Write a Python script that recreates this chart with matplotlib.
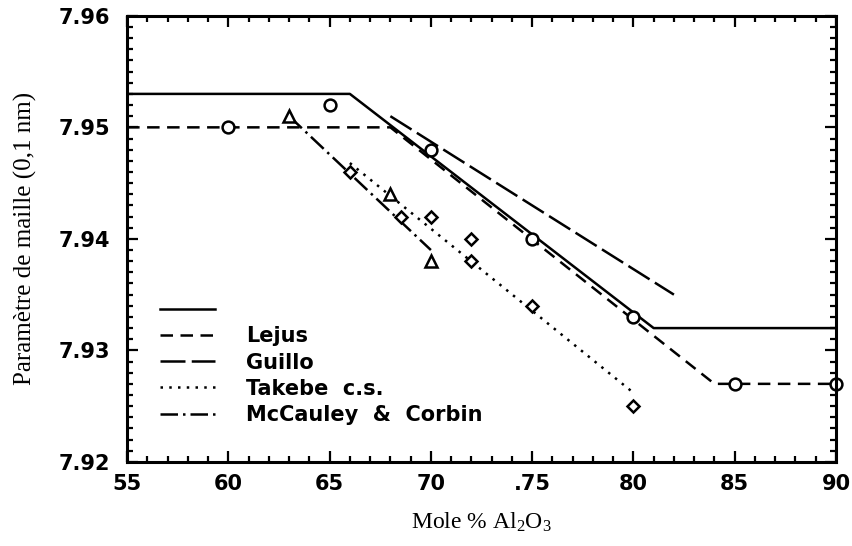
import matplotlib
matplotlib.use('Agg')
import matplotlib.pyplot as plt
from matplotlib.ticker import MultipleLocator

# solid line (no label)
solid_x = [55, 66, 81, 90]
solid_y = [7.9530, 7.9530, 7.9320, 7.9320]

# Lejus (dashed)
lejus_x = [55, 68, 84, 90]
lejus_y = [7.9500, 7.9500, 7.9270, 7.9270]

# Guillo (long dashes)
guillo_x = [68, 82]
guillo_y = [7.9510, 7.9350]

# Takebe c.s. (dotted)
takebe_x = [66, 80]
takebe_y = [7.9468, 7.9262]

# McCauley & Corbin (dash-dot)
mccauley_x = [63, 70]
mccauley_y = [7.9510, 7.9390]

# measured points
circle_x = [60, 65, 70, 75, 80, 85, 90]
circle_y = [7.950, 7.952, 7.948, 7.940, 7.933, 7.927, 7.927]
diamond_x = [66, 68.5, 70, 72, 72, 75, 80]
diamond_y = [7.946, 7.942, 7.942, 7.940, 7.938, 7.934, 7.925]
triangle_x = [63, 68, 70]
triangle_y = [7.951, 7.944, 7.938]

x_ticks = [55, 60, 65, 70, 75, 80, 85, 90]
x_tick_labels = ['55', '60', '65', '70', '.75', '80', '85', '90']
y_ticks = [7.92, 7.93, 7.94, 7.95, 7.96]

plt.rcParams['mathtext.fontset'] = 'custom'
plt.rcParams['mathtext.rm'] = 'Liberation Serif'

fig = plt.figure(figsize=(8.53, 5.46), dpi=100)
ax = fig.add_axes([0.149, 0.154, 0.831, 0.817])

lw = 1.8
ax.plot(solid_x, solid_y, color='black', lw=lw, ls='-', label=' ')
ax.plot(lejus_x, lejus_y, color='black', lw=lw, ls=(0, (5, 3)), label='Lejus')
ax.plot(guillo_x, guillo_y, color='black', lw=lw, ls=(0, (10, 2.5)), label='Guillo')
ax.plot(takebe_x, takebe_y, color='black', lw=lw, ls=(0, (1, 2.5)), label='Takebe  c.s.')
ax.plot(mccauley_x, mccauley_y, color='black', lw=lw, ls=(0, (7, 2, 1, 2)), label='McCauley  &  Corbin')

ax.plot(circle_x, circle_y, ls='none', marker='o', ms=8.5, mfc='white', mec='black', mew=1.8, clip_on=False)
ax.plot(diamond_x, diamond_y, ls='none', marker='D', ms=6, mfc='white', mec='black', mew=1.8)
ax.plot(triangle_x, triangle_y, ls='none', marker='^', ms=8.5, mfc='white', mec='black', mew=1.8)

ax.set_xlim(55, 90)
ax.set_ylim(7.92, 7.96)
ax.set_xticks(x_ticks)
ax.set_xticklabels(x_tick_labels)
ax.set_yticks(y_ticks)
ax.set_yticklabels([f'{v:.2f}' for v in y_ticks])
ax.xaxis.set_minor_locator(MultipleLocator(1))
ax.yaxis.set_minor_locator(MultipleLocator(0.001))
ax.tick_params(which='both', direction='in', top=True, right=True, width=1.6)
ax.tick_params(which='major', length=8, labelsize=15)
ax.tick_params(axis='y', which='major', pad=12)
ax.tick_params(axis='x', which='major', pad=9)
ax.tick_params(which='minor', length=4)
for lab in ax.get_xticklabels() + ax.get_yticklabels():
    lab.set_fontfamily('DejaVu Sans')
    lab.set_fontweight('bold')
for sp in ax.spines.values():
    sp.set_linewidth(2.2)

ax.set_xlabel(r'Mole % $\mathrm{Al_2O_3}$', fontfamily='Liberation Serif', fontsize=17, labelpad=12)
ax.set_ylabel('Paramètre de maille (0,1 nm)', fontfamily='Liberation Serif', fontsize=18, labelpad=16)

ax.legend(loc='upper left', bbox_to_anchor=(0.02, 0.405), frameon=False,
          handlelength=2.65, handletextpad=1.5, labelspacing=0.3,
          prop={'family': 'DejaVu Sans', 'weight': 'bold', 'size': 15})

fig.savefig('out.png', dpi=100)
